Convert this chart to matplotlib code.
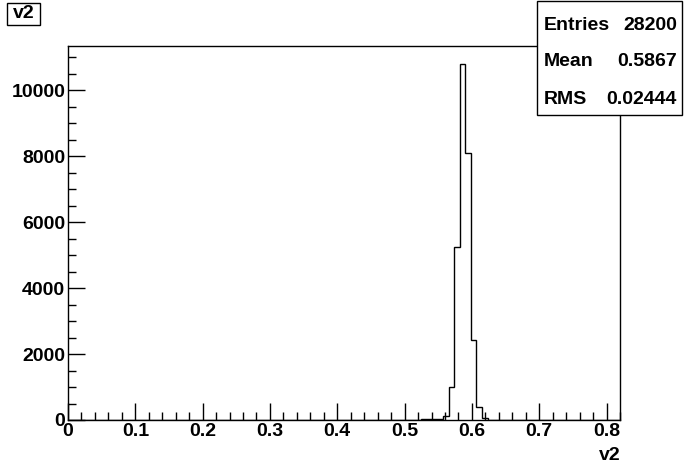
import numpy as np
import matplotlib
matplotlib.use("Agg")
import matplotlib.pyplot as plt
from matplotlib.patches import Rectangle
from matplotlib.ticker import MultipleLocator

# histogram: 100 bins on [0, 0.82], only bins 64..75 are filled
n_bins = 100
x_lo, x_hi = 0.0, 0.82
first_bin = 64
filled = [20, 25, 30, 40, 120, 1000, 5250, 10800, 8100, 2430, 400, 60]

stats_names = ["Entries", "Mean", "RMS"]
stats_values = ["28200", "0.5867", "0.02444"]
x_ticks = [0, 0.1, 0.2, 0.3, 0.4, 0.5, 0.6, 0.7, 0.8]
y_ticks = [0, 2000, 4000, 6000, 8000, 10000]

edges = np.linspace(x_lo, x_hi, n_bins + 1)
counts = np.zeros(n_bins)
counts[first_bin:first_bin + len(filled)] = filled

plt.rcParams["font.family"] = ["Liberation Sans", "DejaVu Sans"]
plt.rcParams["font.weight"] = "bold"
fs = 14

W, H = 689, 467
fig = plt.figure(figsize=(W / 100, H / 100), dpi=100)
ax = fig.add_axes([68 / W, (H - 420) / H, 552 / W, 374 / H])

ax.stairs(counts, edges, color="black", linewidth=1.0, baseline=0)
ax.set_xlim(x_lo, x_hi)
ax.set_ylim(0, 1.05 * max(filled))

ax.set_xticks(x_ticks)
ax.set_xticklabels([f"{t:g}" for t in x_ticks])
ax.set_yticks(y_ticks)
ax.set_yticklabels([str(t) for t in y_ticks])
ax.xaxis.set_minor_locator(MultipleLocator(0.02))
ax.yaxis.set_minor_locator(MultipleLocator(500))
ax.tick_params(which="both", direction="in", top=False, right=False,
               width=1.0, labelsize=fs, colors="black")
ax.tick_params(which="major", axis="x", length=12, pad=2)
ax.tick_params(which="minor", axis="x", length=6)
ax.tick_params(which="major", axis="y", length=12, pad=2)
ax.tick_params(which="minor", axis="y", length=6)
for s in ax.spines.values():
    s.set_linewidth(1.0)

# title box
fig.patches.append(Rectangle((7 / W, 1 - 25 / H), 33 / W, 22 / H,
                             transform=fig.transFigure, facecolor="white",
                             edgecolor="black", linewidth=1.0))
fig.text(23.5 / W, 1 - 14 / H, "v2", ha="center", va="center", fontsize=fs)

# stats box
fig.patches.append(Rectangle((537 / W, 1 - 115 / H), 145 / W, 114 / H,
                             transform=fig.transFigure, facecolor="white",
                             edgecolor="black", linewidth=1.0, zorder=5))
for i, (name, val) in enumerate(zip(stats_names, stats_values)):
    yy = 1 - (25 + 37 * i) / H
    fig.text(544 / W, yy, name, ha="left", va="center", fontsize=fs, zorder=6)
    fig.text(677 / W, yy, val, ha="right", va="center", fontsize=fs, zorder=6)

# x axis label
fig.text(621 / W, 1 - 455 / H, "v2", ha="right", va="center", fontsize=fs)

fig.savefig("out.png", dpi=100)
